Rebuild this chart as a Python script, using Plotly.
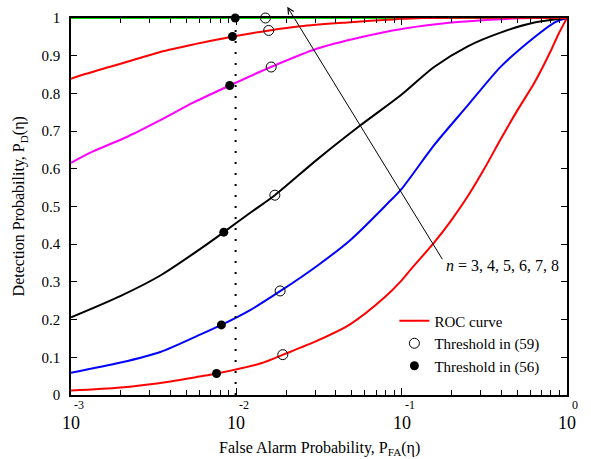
import math
import plotly.graph_objects as go

# ---- data (P_FA, P_D) ----
pfa_n3 = [0.001, 0.002, 0.004, 0.006, 0.0076, 0.0141, 0.0192, 0.0309, 0.049, 0.078, 0.1, 0.114,
          0.157, 0.2, 0.251, 0.316, 0.4, 0.501, 0.635, 0.794, 0.883, 1.0]
pd_n3 = [0.012, 0.020, 0.036, 0.049, 0.057, 0.084, 0.107, 0.144, 0.188, 0.257, 0.304, 0.334,
         0.404, 0.464, 0.527, 0.60, 0.681, 0.755, 0.828, 0.911, 0.955, 1.0]

pfa_n4 = [0.001, 0.002, 0.00347, 0.00603, 0.00813, 0.0122, 0.0185, 0.0309, 0.0492,
          0.0822, 0.1, 0.158, 0.251, 0.398, 0.635, 0.839, 1.0]
pd_n4 = [0.059, 0.086, 0.114, 0.160, 0.186, 0.226, 0.276, 0.343, 0.412,
         0.508, 0.547, 0.664, 0.768, 0.871, 0.949, 0.988, 1.0]

pfa_n5 = [0.001, 0.002, 0.00347, 0.00603, 0.0084, 0.0122, 0.0171, 0.0309, 0.0566,
          0.1, 0.157, 0.251, 0.4, 0.635, 1.0]
pd_n5 = [0.206, 0.263, 0.317, 0.387, 0.432, 0.484, 0.530, 0.625, 0.716,
         0.797, 0.870, 0.925, 0.962, 0.988, 1.0]

pfa_n6 = [0.001, 0.00136, 0.00219, 0.00347, 0.00552, 0.00912, 0.0162, 0.0309, 0.0566,
          0.1, 0.2, 0.4, 0.635, 1.0]
pd_n6 = [0.616, 0.646, 0.685, 0.729, 0.776, 0.821, 0.870, 0.919, 0.949,
         0.971, 0.988, 0.997, 1.0, 1.0]

pfa_n7 = [0.001, 0.00119, 0.00219, 0.00347, 0.00552, 0.00955, 0.0158, 0.0245, 0.0468, 0.0933, 0.135, 1.0]
pd_n7 = [0.839, 0.85, 0.884, 0.910, 0.930, 0.951, 0.967, 0.978, 0.988, 0.997, 1.0, 1.0]

pfa_n8 = [0.001, 0.01, 0.1, 1.0]
pd_n8 = [1.0, 1.0, 1.0, 1.0]

# thresholds
thr56_pfa = [0.00759, 0.00812, 0.0084, 0.00912, 0.00948, 0.00985]
thr56_pd = [0.057, 0.186, 0.432, 0.821, 0.951, 1.0]
thr59_pfa = [0.0191, 0.0184, 0.0171, 0.01625, 0.0157, 0.0150]
thr59_pd = [0.107, 0.276, 0.530, 0.870, 0.967, 1.0]

vline_pfa = 0.0099

x_tick_vals = [0.001, 0.01, 0.1, 1.0]
x_tick_exps = ["-3", "-2", "-1", "0"]
y_tick_vals = [0, 0.1, 0.2, 0.3, 0.4, 0.5, 0.6, 0.7, 0.8, 0.9, 1]
y_tick_text = ["0", "0.1", "0.2", "0.3", "0.4", "0.5", "0.6", "0.7", "0.8", "0.9", "1"]

FONT = "Times New Roman, Liberation Serif, Times, serif"

fig = go.Figure()

curves = [
    (pfa_n8, pd_n8, "#00e000"),
    (pfa_n3, pd_n3, "#ff0000"),
    (pfa_n4, pd_n4, "#0000ff"),
    (pfa_n5, pd_n5, "#000000"),
    (pfa_n6, pd_n6, "#ff00ff"),
    (pfa_n7, pd_n7, "#ff0000"),
]
for i, (xs, ys, c) in enumerate(curves):
    fig.add_trace(go.Scatter(
        x=xs, y=ys, mode="lines", line=dict(color=c, width=2, shape="spline", smoothing=0.8),
        name="ROC curve", showlegend=(i == 1), legendrank=1, cliponaxis=False,
        hoverinfo="skip"))

# dotted vertical line
fig.add_trace(go.Scatter(
    x=[vline_pfa, vline_pfa], y=[0, 1], mode="lines",
    line=dict(color="black", width=2, dash="2px,9px"), showlegend=False, hoverinfo="skip"))

fig.add_trace(go.Scatter(
    x=thr59_pfa, y=thr59_pd, mode="markers", name="Threshold in (59)",
    marker=dict(symbol="circle-open", size=10, color="black", line=dict(width=1, color="black")),
    legendrank=2, cliponaxis=False))
fig.add_trace(go.Scatter(
    x=thr56_pfa, y=thr56_pd, mode="markers", name="Threshold in (56)",
    marker=dict(symbol="circle", size=9, color="black"),
    legendrank=3, cliponaxis=False))

minor_vals = [m * 10 ** e for e in (-3, -2, -1) for m in range(2, 10)]

fig.update_xaxes(
    type="log", range=[-3, 0], tickmode="array", tickvals=x_tick_vals,
    showticklabels=False, ticks="inside", ticklen=7, tickwidth=1, tickcolor="black",
    showline=True, linecolor="black", linewidth=1.5, mirror="ticks", showgrid=False,
    zeroline=False,
    minor=dict(tickmode="array", tickvals=minor_vals, ticks="inside", ticklen=5,
               tickcolor="black", tickwidth=1, showgrid=False))
fig.update_yaxes(
    range=[0, 1], tickmode="array", tickvals=y_tick_vals, ticktext=y_tick_text,
    ticks="inside", ticklen=6, tickwidth=1, tickcolor="black",
    showline=True, linecolor="black", linewidth=1.5, mirror="ticks", showgrid=False,
    zeroline=False, ticklabelstandoff=6, tickfont=dict(family=FONT, size=15, color="black"))

annotations = []
for v, e in zip(x_tick_vals, x_tick_exps):
    lx = math.log10(v)
    annotations.append(dict(x=lx, xref="x", y=-0.073, yref="paper", text="10",
                            showarrow=False, xanchor="center", yanchor="middle",
                            font=dict(family=FONT, size=18, color="black")))
    annotations.append(dict(x=lx, xref="x", y=-0.027, yref="paper", text=e,
                            showarrow=False, xanchor="center", yanchor="middle", xshift=8,
                            font=dict(family=FONT, size=12, color="black")))

annotations.append(dict(x=0.5, xref="paper", y=-0.142, yref="paper",
                        text="False Alarm Probability, P<sub>FA</sub>(η)", showarrow=False,
                        xanchor="center", yanchor="middle",
                        font=dict(family=FONT, size=16, color="black")))
annotations.append(dict(x=-0.103, xref="paper", y=0.5, yref="paper",
                        text="Detection Probability, P<sub>D</sub>(η)", showarrow=False,
                        textangle=-90, xanchor="center", yanchor="middle",
                        font=dict(family=FONT, size=16, color="black")))
# arrow (head at top, tail near the label)
annotations.append(dict(x=0.436, xref="paper", y=1.03, yref="paper", text="",
                        showarrow=True, ax=156, ay=254, axref="pixel", ayref="pixel",
                        arrowhead=5, arrowsize=1.2, arrowwidth=1, arrowcolor="black"))
annotations.append(dict(x=math.log10(0.18), xref="x", y=0.344, yref="y",
                        text="<i>n</i> = 3, 4, 5, 6, 7, 8", showarrow=False,
                        xanchor="left", yanchor="middle",
                        font=dict(family=FONT, size=16, color="black")))

fig.update_layout(
    width=591, height=459,
    margin=dict(l=71, r=24, t=10, b=64),
    paper_bgcolor="white", plot_bgcolor="white",
    font=dict(family=FONT, size=15, color="black"),
    annotations=annotations,
    legend=dict(x=0.652, y=0.24, xanchor="left", yanchor="top",
                bgcolor="rgba(0,0,0,0)", borderwidth=0,
                font=dict(family=FONT, size=15, color="black"), tracegroupgap=0),
)

fig.write_html("out.html")
